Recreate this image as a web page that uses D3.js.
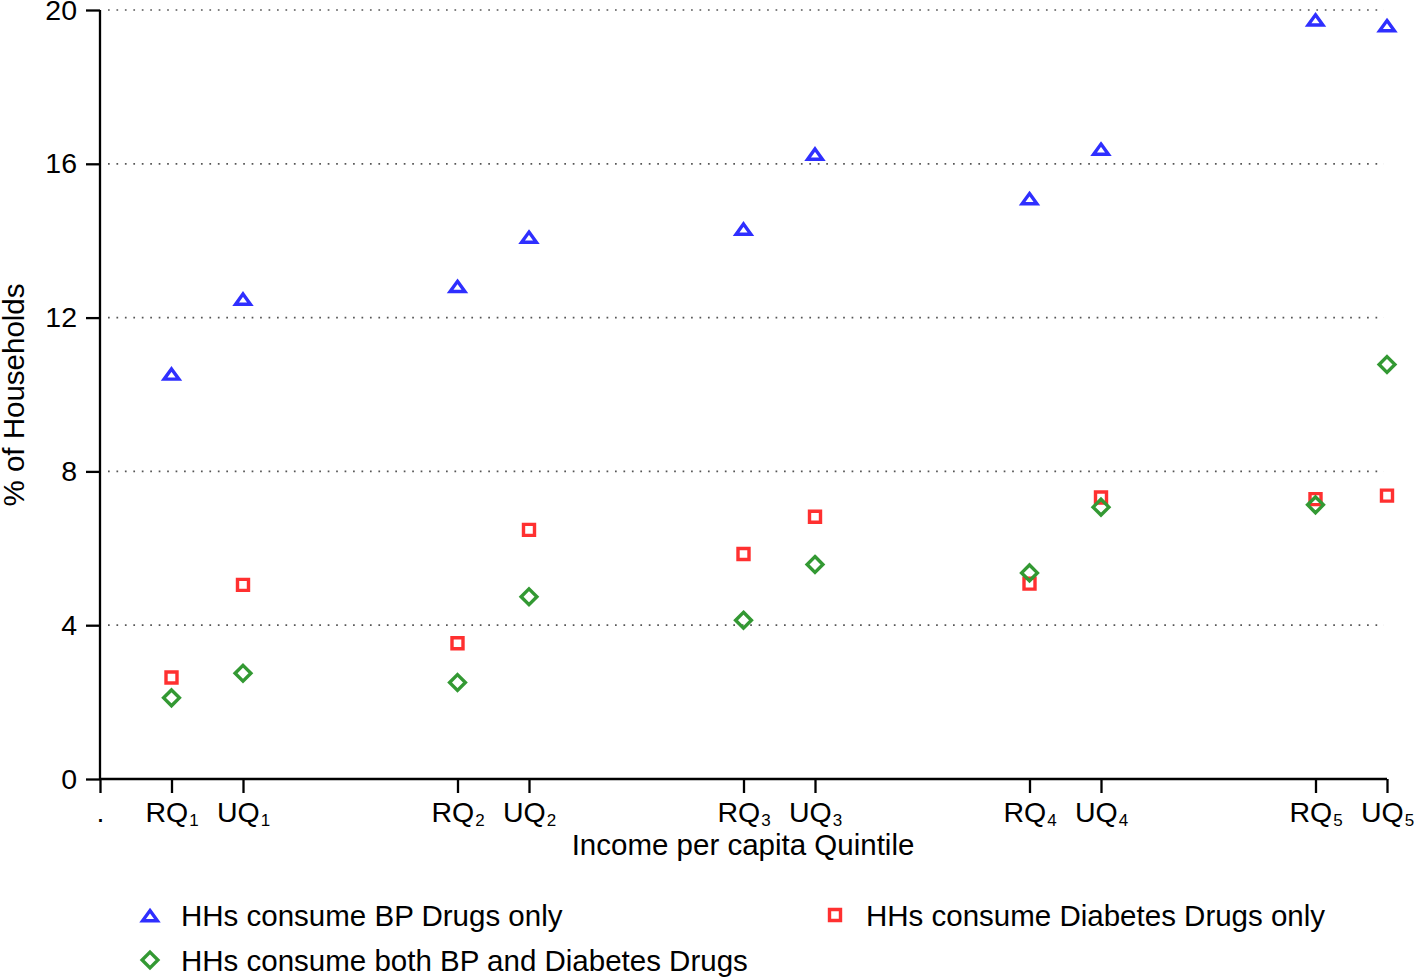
<!DOCTYPE html>
<html>
<head>
<meta charset="utf-8">
<script src="https://cdn.jsdelivr.net/npm/d3@7"></script>
<style>
  html, body { margin: 0; padding: 0; background: #fff; }
  svg { display: block; }
  text { font-family: "Liberation Sans", Arial, Helvetica, sans-serif; fill: #000; }
</style>
</head>
<body>
<svg id="chart" width="1414" height="977"></svg>
<script>
// ---------- data ----------
const categories = ["RQ1", "UQ1", "RQ2", "UQ2", "RQ3", "UQ3", "RQ4", "UQ4", "RQ5", "UQ5"];
const xValues    = [1, 2, 5, 6, 9, 10, 13, 14, 17, 18];
const bpOnly       = [10.55, 12.50, 12.83, 14.11, 14.32, 16.27, 15.11, 16.40, 19.76, 19.61];
const diabetesOnly = [2.64, 5.05, 3.53, 6.48, 5.85, 6.82, 5.08, 7.32, 7.28, 7.37];
const bothDrugs    = [2.11, 2.75, 2.51, 4.74, 4.13, 5.58, 5.36, 7.07, 7.13, 10.78];
const yTicks = [0, 4, 8, 12, 16, 20];
const seriesNames = ["HHs consume BP Drugs only", "HHs consume Diabetes Drugs only", "HHs consume both BP and Diabetes Drugs"];

// ---------- layout ----------
const svg = d3.select("#chart");
const mLeft = 100, mRight = 1387, mTop = 10, mBottom = 779;
const x = d3.scaleLinear().domain([0, 18]).range([mLeft, mRight]);
const y = d3.scaleLinear().domain([0, 20]).range([mBottom, mTop]);

const BLUE = "#2f2fff", RED = "#ff3030", GREEN = "#339933";
const SW = 3.4;

// custom symbols
const triangle = { draw(ctx, size) { const w = 7.4, h = 10.2, o = 0.7;
  ctx.moveTo(0, -h/2 + o); ctx.lineTo(w, h/2 + o); ctx.lineTo(-w, h/2 + o); ctx.closePath(); } };
const square = { draw(ctx, size) { const s = 5.5;
  ctx.moveTo(-s, -s); ctx.lineTo(s, -s); ctx.lineTo(s, s); ctx.lineTo(-s, s); ctx.closePath(); } };
const diamond = { draw(ctx, size) { const s = 7.9;
  ctx.moveTo(0, -s); ctx.lineTo(s, 0); ctx.lineTo(0, s); ctx.lineTo(-s, 0); ctx.closePath(); } };

// ---------- grid ----------
svg.append("g").selectAll("line").data(yTicks).join("line")
  .attr("x1", mLeft + 8).attr("x2", mRight - 3)
  .attr("y1", d => y(d)).attr("y2", d => y(d))
  .attr("stroke", "#555").attr("stroke-width", 1.7)
  .attr("stroke-dasharray", "1.7,6.75");

// ---------- y axis ----------
const yAxis = svg.append("g").attr("transform", `translate(${mLeft},0)`)
  .call(d3.axisLeft(y).tickValues(yTicks).tickSize(14).tickPadding(9).tickFormat(d3.format("d")));
yAxis.select(".domain").attr("stroke", "#000").attr("stroke-width", 2.3).attr("d", `M0,${mTop}V${mBottom}`);
yAxis.selectAll(".tick line").attr("stroke", "#000").attr("stroke-width", 2.3);
yAxis.selectAll(".tick text").attr("font-size", 28.5).attr("font-family", "Liberation Sans, Arial, sans-serif").attr("fill", "#000");

// ---------- x axis ----------
const xTickVals = [0].concat(xValues);
const xLabels = ["."].concat(categories);
const xAxis = svg.append("g").attr("transform", `translate(0,${mBottom})`)
  .call(d3.axisBottom(x).tickValues(xTickVals).tickSize(14).tickFormat(""));
xAxis.select(".domain").attr("stroke", "#000").attr("stroke-width", 2.3).attr("d", `M${mLeft},0H${mRight}`);
xAxis.selectAll(".tick line").attr("stroke", "#000").attr("stroke-width", 2.3);
xAxis.selectAll(".tick").each(function(d, i) {
  const lab = xLabels[i];
  const t = d3.select(this).append("text")
    .attr("y", 43).attr("text-anchor", "middle")
    .attr("font-size", 28.5).attr("fill", "#000");
  if (lab === ".") { t.text("."); }
  else {
    t.append("tspan").text(lab.slice(0, 2));
    t.append("tspan").attr("font-size", 17).attr("dx", 1).attr("dy", 4).text(lab.slice(2));
  }
});

// ---------- axis titles ----------
svg.append("text").attr("x", 743).attr("y", 855).attr("text-anchor", "middle")
  .attr("font-size", 29.5).text("Income per capita Quintile");
svg.append("text").attr("transform", "translate(24,395) rotate(-90)").attr("text-anchor", "middle")
  .attr("font-size", 29.5).text("% of Households");

// ---------- points ----------
const series = [
  { values: bpOnly, color: BLUE, sym: triangle },
  { values: diabetesOnly, color: RED, sym: square },
  { values: bothDrugs, color: GREEN, sym: diamond }
];
series.forEach(s => {
  svg.append("g").selectAll("path").data(s.values).join("path")
    .attr("transform", (d, i) => `translate(${x(xValues[i])},${y(d)})`)
    .attr("d", d3.symbol().type(s.sym))
    .attr("fill", "none").attr("stroke", s.color).attr("stroke-width", SW);
});

// ---------- legend ----------
const legendItems = [
  { name: seriesNames[0], s: series[0], lx: 150, ly: 915 },
  { name: seriesNames[1], s: series[1], lx: 835, ly: 915 },
  { name: seriesNames[2], s: series[2], lx: 150, ly: 960 }
];
const lg = svg.append("g").selectAll("g").data(legendItems).join("g")
  .attr("transform", d => `translate(${d.lx},${d.ly})`);
lg.append("path").attr("d", d => d3.symbol().type(d.s.sym)())
  .attr("fill", "none").attr("stroke", d => d.s.color).attr("stroke-width", SW);
lg.append("text").attr("x", 31).attr("y", 11).attr("font-size", 29.5).text(d => d.name);
</script>
</body>
</html>
